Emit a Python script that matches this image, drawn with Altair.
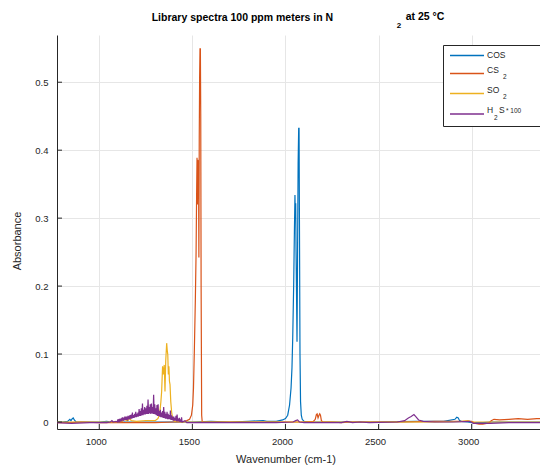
import altair as alt
import pandas as pd

# ---------------- data ----------------
cos_wn = [773, 800, 830, 842, 848, 855, 860, 866, 875, 900,
          1000, 1040, 1060, 1100, 1200, 1300, 1400, 1500, 1600, 1700,
          1800, 1880, 1900, 1950, 1985, 2000, 2012, 2022, 2030, 2035,
          2039, 2044, 2048, 2051, 2053, 2055, 2057, 2059, 2062, 2065,
          2068, 2071, 2073, 2075, 2078, 2081, 2085, 2090, 2100, 2150,
          2300, 2500, 2700, 2850, 2910, 2920, 2928, 2935, 2945, 2980,
          3000, 3060, 3100, 3200, 3300, 3410]
cos_abs = [0.000, 0.000, 0.001, 0.004, 0.002, 0.005, 0.006, 0.003, 0.000, 0.000,
           0.000, 0.001, 0.000, 0.000, 0.000, 0.000, 0.000, 0.000, 0.001, 0.000,
           0.001, 0.002, 0.001, 0.001, 0.003, 0.005, 0.010, 0.025, 0.050, 0.080,
           0.124, 0.200, 0.280, 0.334, 0.300, 0.322, 0.250, 0.200, 0.118, 0.250,
           0.380, 0.432, 0.432, 0.300, 0.100, 0.030, 0.010, 0.004, 0.001, 0.000,
           0.000, 0.000, 0.001, 0.001, 0.004, 0.007, 0.006, 0.002, 0.001, 0.000,
           -0.001, -0.001, 0.000, 0.000, 0.000, 0.000]

cs2_wn = [773, 850, 900, 1000, 1100, 1200, 1300, 1400, 1450, 1470,
          1485, 1495, 1502, 1506, 1511, 1516, 1520, 1523, 1525, 1527,
          1529, 1531, 1533, 1535, 1537, 1539, 1541, 1543, 1545, 1547,
          1550, 1553, 1560, 1600, 1700, 1800, 1900, 2000, 2100, 2150,
          2160, 2166, 2170, 2175, 2180, 2184, 2188, 2193, 2200, 2250,
          2300, 2350, 2400, 2500, 2600, 2800, 2950, 3000, 3020, 3040,
          3060, 3080, 3095, 3105, 3120, 3150, 3200, 3250, 3300, 3350,
          3410]
cs2_abs = [-0.001, -0.001, 0.000, -0.001, -0.001, -0.001, -0.001, 0.000, 0.000, 0.002,
           0.004, 0.010, 0.025, 0.050, 0.110, 0.180, 0.250, 0.340, 0.389, 0.320,
           0.386, 0.350, 0.385, 0.242, 0.420, 0.507, 0.549, 0.549, 0.450, 0.200,
           0.010, 0.000, 0.000, 0.000, 0.000, 0.000, 0.000, 0.000, 0.000, 0.001,
           0.004, 0.011, 0.012, 0.006, 0.010, 0.012, 0.010, 0.002, 0.000, 0.000,
           -0.001, 0.000, 0.000, 0.000, 0.000, 0.001, 0.001, 0.001, -0.002, -0.003,
           -0.003, -0.002, -0.001, 0.002, 0.004, 0.003, 0.004, 0.005, 0.004, 0.005,
           0.005]

so2_wn = [773, 900, 1000, 1100, 1125, 1132, 1138, 1144, 1155, 1160,
          1165, 1171, 1200, 1250, 1300, 1315, 1322, 1326, 1331, 1335,
          1340, 1344, 1349, 1353, 1357, 1362, 1365, 1368, 1371, 1374,
          1377, 1380, 1384, 1389, 1395, 1405, 1450, 1600, 1800, 2000,
          2200, 2400, 2600, 2800, 2950, 2980, 3000, 3100, 3200, 3410]
so2_abs = [0.000, 0.000, 0.000, 0.000, 0.001, 0.004, 0.006, 0.002, 0.002, 0.005,
           0.006, 0.002, 0.001, 0.002, 0.002, 0.005, 0.010, 0.016, 0.030, 0.045,
           0.082, 0.070, 0.084, 0.045, 0.090, 0.116, 0.106, 0.099, 0.070, 0.082,
           0.060, 0.055, 0.030, 0.014, 0.004, 0.001, 0.000, 0.000, 0.000, 0.000,
           0.000, 0.000, 0.000, 0.000, 0.001, 0.002, 0.000, 0.000, 0.000, 0.000]

h2s_wn = [773, 850, 950, 1000, 1040, 1060, 1068, 1074, 1090, 1097,
          1100, 1103, 1106, 1109, 1112, 1115, 1118, 1121, 1124, 1127,
          1130, 1133, 1136, 1139, 1142, 1145, 1148, 1151, 1154, 1157,
          1160, 1163, 1166, 1169, 1172, 1175, 1178, 1181, 1184, 1187,
          1190, 1193, 1196, 1199, 1202, 1205, 1208, 1211, 1214, 1217,
          1220, 1223, 1226, 1229, 1232, 1235, 1238, 1241, 1244, 1247,
          1250, 1253, 1256, 1259, 1262, 1265, 1268, 1271, 1274, 1277,
          1280, 1283, 1286, 1289, 1292, 1295, 1298, 1301, 1304, 1307,
          1310, 1313, 1316, 1319, 1322, 1325, 1328, 1331, 1334, 1337,
          1340, 1343, 1346, 1349, 1352, 1355, 1358, 1361, 1364, 1367,
          1370, 1373, 1376, 1379, 1382, 1385, 1388, 1391, 1394, 1397,
          1400, 1403, 1406, 1409, 1412, 1415, 1418, 1421, 1424, 1427,
          1430, 1433, 1436, 1439, 1442, 1445, 1460, 1470, 1600, 1800,
          1950, 2040, 2055, 2065, 2075, 2100, 2300, 2330, 2360, 2400,
          2450, 2600, 2640, 2660, 2675, 2690, 2700, 2715, 2740, 2800,
          2900, 2990, 3010, 3100, 3200, 3410]
h2s_abs = [-0.001, -0.002, -0.001, -0.001, -0.001, 0.000, 0.002, 0.000, 0.001, 0.000,
           0.004, 0.001, 0.003, 0.001, 0.005, 0.002, 0.004, 0.002, 0.007, 0.002,
           0.005, 0.003, 0.006, 0.003, 0.008, 0.003, 0.006, 0.004, 0.009, 0.004,
           0.007, 0.004, 0.010, 0.005, 0.011, 0.005, 0.014, 0.006, 0.010, 0.006,
           0.012, 0.007, 0.015, 0.007, 0.012, 0.008, 0.014, 0.008, 0.019, 0.009,
           0.016, 0.009, 0.020, 0.010, 0.027, 0.010, 0.018, 0.011, 0.022, 0.011,
           0.020, 0.012, 0.024, 0.012, 0.033, 0.012, 0.022, 0.013, 0.026, 0.012,
           0.027, 0.013, 0.022, 0.012, 0.040, 0.012, 0.026, 0.011, 0.020, 0.010,
           0.025, 0.009, 0.026, 0.009, 0.016, 0.008, 0.018, 0.007, 0.014, 0.007,
           0.016, 0.006, 0.022, 0.006, 0.015, 0.005, 0.012, 0.005, 0.015, 0.004,
           0.012, 0.004, 0.010, 0.004, 0.017, 0.003, 0.010, 0.003, 0.008, 0.002,
           0.008, 0.002, 0.006, 0.002, 0.009, 0.001, 0.011, 0.001, 0.005, 0.001,
           0.006, 0.000, 0.004, 0.000, 0.007, 0.000, 0.002, -0.001, -0.001, -0.001,
           -0.001, 0.000, 0.002, 0.003, 0.000, -0.001, -0.001, 0.001, -0.001, 0.000,
           -0.001, 0.000, 0.002, 0.006, 0.008, 0.011, 0.008, 0.003, 0.001, 0.000,
           0.000, 0.001, -0.002, -0.002, -0.001, -0.001]

x_ticks = [1000, 1500, 2000, 2500, 3000]
y_ticks = [0, 0.1, 0.2, 0.3, 0.4, 0.5]

# ---------------- styling ----------------
W, H = 483, 394
XD = [773, 3367]
YD = [-0.0103, 0.5695]
AX = "#262626"
GRID = "#e6e6e6"
FONT = "Liberation Sans"
C_COS, C_CS2, C_SO2, C_H2S = "#0072BD", "#D95319", "#EDB120", "#7E2F8E"

xs = alt.Scale(domain=XD, nice=False, zero=False)
ys = alt.Scale(domain=YD, nice=False, zero=False)

x_axis = alt.Axis(values=x_ticks, format="d", grid=True, gridColor=GRID, gridWidth=1,
                  domainColor=AX, domainWidth=1, ticks=False,
                  labelFont=FONT, labelFontSize=9.5, labelColor=AX,
                  labelPadding=7, labelOffset=-3.5, title=None, labelFlush=False)
y_axis = alt.Axis(values=y_ticks, grid=True, gridColor=GRID, gridWidth=1,
                  domainColor=AX, domainWidth=1, ticks=False,
                  labelFont=FONT, labelFontSize=9.5, labelColor=AX,
                  labelPadding=9, title=None, labelFlush=False,
                  labelExpr="datum.value == 0 ? '0' : format(datum.value, '.1f')")


def spectrum(wn, ab, color):
    df = pd.DataFrame({"wn": wn, "a": ab})
    return alt.Chart(df).mark_line(color=color, strokeWidth=1.2, clip=True).encode(
        x=alt.X("wn:Q", scale=xs, axis=x_axis),
        y=alt.Y("a:Q", scale=ys, axis=y_axis),
    )


one = pd.DataFrame({"k": [0]})


def txt(s, x, y, size, color=AX, bold=False, angle=0, align="left", baseline="middle"):
    return alt.Chart(one).mark_text(
        text=s, font=FONT, fontSize=size, fontWeight="bold" if bold else "normal",
        color=color, align=align, baseline=baseline, angle=angle,
    ).encode(x=alt.value(x), y=alt.value(y))


def hrule(x1, x2, y, color, w=1.3):
    return alt.Chart(one).mark_rule(color=color, stroke=color, strokeWidth=w).encode(
        x=alt.value(x1), x2=alt.value(x2), y=alt.value(y))


# inward ticks (MATLAB style)
xt = alt.Chart(pd.DataFrame({"v": x_ticks})).mark_rule(color=AX, strokeWidth=1).encode(
    x=alt.X("v:Q", scale=xs, axis=x_axis), y=alt.value(H), y2=alt.value(H - 5))
yt = alt.Chart(pd.DataFrame({"v": y_ticks})).mark_rule(color=AX, strokeWidth=1).encode(
    y=alt.Y("v:Q", scale=ys, axis=y_axis), x=alt.value(0), x2=alt.value(5))

# legend box
leg_box = alt.Chart(one).mark_rect(fill="white", stroke=AX, strokeWidth=1).encode(
    x=alt.value(386.5), x2=alt.value(483.5), y=alt.value(10.5), y2=alt.value(91.5))

layers = [
    spectrum(cos_wn, cos_abs, C_COS),
    spectrum(cs2_wn, cs2_abs, C_CS2),
    spectrum(so2_wn, so2_abs, C_SO2),
    spectrum(h2s_wn, h2s_abs, C_H2S),
    xt, yt,
    leg_box,
    hrule(393, 427, 20.5, C_COS),
    hrule(393, 427, 38.5, C_CS2),
    hrule(393, 427, 58.5, C_SO2),
    hrule(393, 427, 79, C_H2S),
    txt("COS", 430, 19.5, 8.5),
    txt("CS", 430, 35, 8.5),
    txt("2", 446, 42, 6.5),
    txt("SO", 430, 55, 8.5),
    txt("2", 446, 62, 6.5),
    txt("H", 430, 75, 8.5),
    txt("2", 437, 83, 6.5),
    txt("S", 442, 75, 8.5),
    txt("* 100", 449, 76, 6.5),
    # title (as rendered in the reference)
    txt("Library spectra 100 ppm meters in N", 94.7, -14.3, 10.5, color="black", bold=True, baseline="alphabetic"),
    txt("2", 339.7, -7.5, 8, color="black", bold=True, baseline="alphabetic"),
    txt("at 25 °C", 348.7, -15.3, 10.5, color="black", bold=True, baseline="alphabetic"),
    # axis titles
    txt("Wavenumber (cm-1)", 229, 428, 11, align="center", baseline="alphabetic"),
    txt("Absorbance", -36, 206, 11, angle=270, align="center", baseline="alphabetic"),
]

chart = alt.layer(*layers).properties(
    width=W, height=H,
    padding={"left": 49, "top": 27, "right": 0, "bottom": 37},
    autosize=alt.AutoSizeParams(type="none"),
    background="white",
).configure_view(stroke=None)

chart.save("out.html", embed_options={"renderer": "svg", "actions": False})
